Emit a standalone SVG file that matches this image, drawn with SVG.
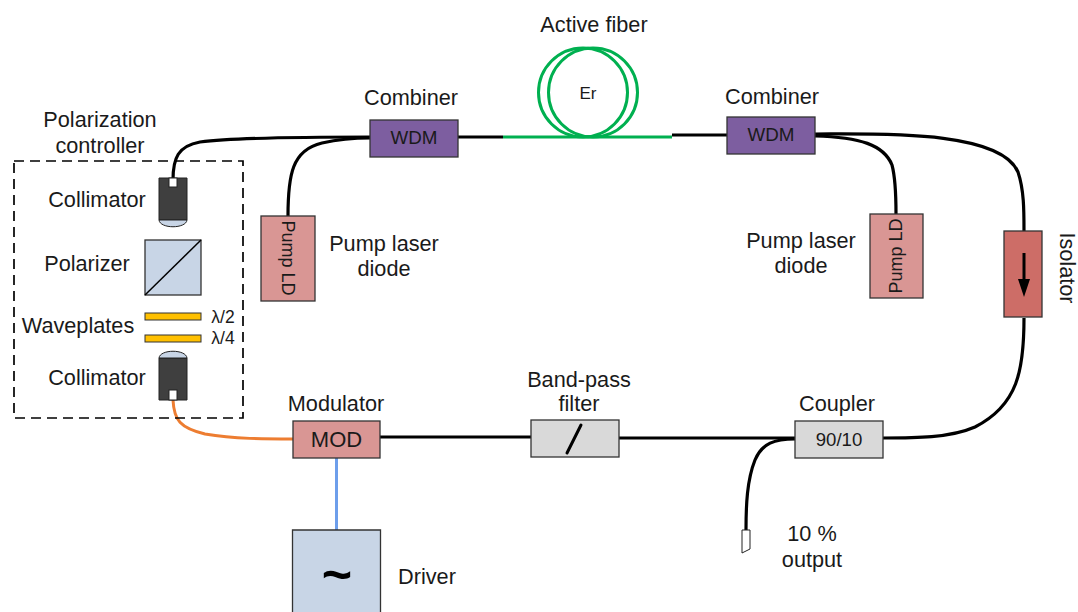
<svg xmlns="http://www.w3.org/2000/svg" width="1078" height="612" viewBox="0 0 1078 612">
<style>
text{font-family:"Liberation Sans",Arial,sans-serif;fill:#1a1a1a;font-size:21.7px;text-anchor:middle}
.box{stroke:#333;stroke-width:1.3}
.f{fill:none;stroke:#000;stroke-width:3.2;stroke-linecap:butt}
.g{fill:none;stroke:#00b050;stroke-width:3}
.wdm{fill:#7d5ea0}
.pink{fill:#d99694}
.grey{fill:#d9d9d9}
.blue{fill:#c8d5e6}
.dark{fill:#3f3f3f;stroke:#222;stroke-width:1}
.plate{fill:#ffc000;stroke:#333;stroke-width:1}
</style>
<g id="connectors">
<path class="f" d="M173 180C173 158 178 146 200 142C240 137 320 137 370 137"/>
<path class="f" d="M288 216C288 175 292 150 322 143C340 139 355 138 370 138"/>
<path class="f" d="M458 137H503"/>
<path class="f" d="M672 135H727"/>
<path class="f" d="M815 134C880 134 1000 130 1018 172C1024 190 1024 210 1024 231"/>
<path class="f" d="M815 136C860 137 884 145 892 165C896 180 896 198 896 214"/>
<path class="f" d="M1024 318C1024 370 1018 405 975 427C950 438 915 438 883 438"/>
<path class="f" d="M380 437H531"/>
<path class="f" d="M619 438H795"/>
<path class="f" d="M795 439C775 439 762 443 755 460C747 480 746 505 746 530"/>
<path d="M173 400C174 420 180 428 205 434C235 439 265 439 293 439" fill="none" stroke="#ed7d31" stroke-width="3"/>
<path d="M336.500 458V530" fill="none" stroke="#6d9eeb" stroke-width="3"/>
<path class="g" d="M503 137H672"/>
<circle class="g" cx="583" cy="92.500" r="44.500"/>
<circle class="g" cx="593" cy="92.500" r="44.500"/>
</g>
<rect x="14" y="161" width="229" height="257" fill="none" stroke="#000" stroke-width="1.700" stroke-dasharray="10 6"/>
<g id="collimator-top">
<path class="dark" d="M159 178H187V220H159Z"/>
<path d="M159 220H187C186 229 160 229 159 220Z" fill="#c8d5e6" stroke="#222"/>
<rect x="169" y="178" width="8" height="9" fill="#fff" stroke="#222"/>
</g>
<g id="polarizer">
<rect class="blue box" x="145" y="240" width="56" height="55"/>
<path d="M145 295L201 240" stroke="#000" stroke-width="1.500"/>
</g>
<g id="waveplates">
<rect class="plate" x="145" y="313" width="56" height="7"/>
<rect class="plate" x="145" y="335" width="56" height="7"/>
</g>
<g id="collimator-bottom">
<path class="dark" d="M159 358H187V400H159Z"/>
<path d="M159 358C160 349 186 349 187 358Z" fill="#c8d5e6" stroke="#222"/>
<rect x="169" y="390" width="8" height="10" fill="#fff" stroke="#222"/>
</g>
<g id="wdm-left"><rect class="wdm box" x="370" y="120" width="88" height="37"/><text x="414" y="144" style="font-size:18.800px">WDM</text></g>
<g id="wdm-right"><rect class="wdm box" x="727" y="117" width="88" height="37"/><text x="771" y="141" style="font-size:18.800px">WDM</text></g>
<g id="pump-left"><rect class="pink box" x="261" y="216" width="54" height="85"/><text transform="translate(282 258) rotate(90)" style="font-size:18px">Pump LD</text></g>
<g id="pump-right"><rect class="pink box" x="870" y="214" width="53" height="84"/><text transform="translate(902 256) rotate(-90)" style="font-size:18px">Pump LD</text></g>
<g id="isolator"><rect x="1004" y="231" width="38" height="86" fill="#cd6d67" stroke="#333" stroke-width="1.300"/>
<path d="M1024 253V280" stroke="#000" stroke-width="3"/><path d="M1018 279H1030L1024 297Z" fill="#000"/>
</g>
<g id="coupler"><rect class="grey box" x="795" y="421" width="88" height="37"/><text x="839" y="446" style="font-size:18.600px">90/10</text></g>
<g id="bpf"><rect class="grey box" x="531" y="420" width="88" height="37"/><path d="M567 453L581 425" stroke="#000" stroke-width="3" stroke-linecap="round"/></g>
<g id="mod"><rect class="pink box" x="293" y="421" width="87" height="37"/><text x="336.500" y="447" style="font-size:22px">MOD</text></g>
<g id="driver"><path class="blue box" d="M292.500 612V530H380.500V612"/><text x="337" y="592" style="font-size:52px;font-weight:bold;fill:#000">~</text></g>
<g id="output"><path d="M742 530H750V549L742 553Z" fill="#fff" stroke="#222"/></g>
<text x="594" y="32">Active fiber</text>
<text x="588" y="99" style="font-size:17px">Er</text>
<text x="411" y="105">Combiner</text>
<text x="772" y="104">Combiner</text>
<text x="100" y="127">Polarization</text>
<text x="100" y="153">controller</text>
<text x="97" y="207">Collimator</text>
<text x="87" y="271">Polarizer</text>
<text x="78" y="333">Waveplates</text>
<text x="97" y="385">Collimator</text>
<text x="223" y="323" style="font-size:17.500px">λ/2</text>
<text x="223" y="344" style="font-size:17.500px">λ/4</text>
<text x="384" y="251">Pump laser</text>
<text x="384" y="276">diode</text>
<text x="801" y="248">Pump laser</text>
<text x="801" y="273">diode</text>
<text transform="translate(1060 268) rotate(90)">Isolator</text>
<text x="336" y="411">Modulator</text>
<text x="579" y="387">Band-pass</text>
<text x="579" y="411">filter</text>
<text x="837" y="411">Coupler</text>
<text x="812" y="541">10 %</text>
<text x="812" y="567">output</text>
<text x="427" y="584">Driver</text>
</svg>
